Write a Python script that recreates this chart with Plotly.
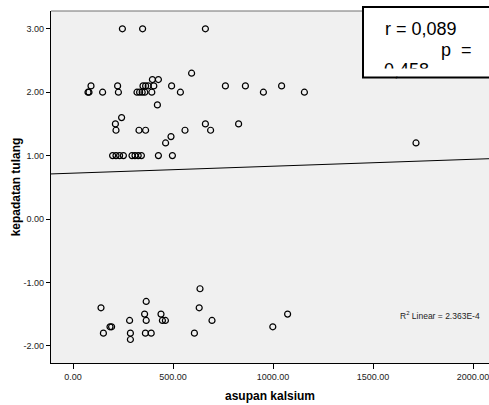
import numpy as np
import plotly.graph_objects as go

# asupan kalsium (mg) vs kepadatan tulang (T-score), grouped by T-score level
x_30 = [247, 348, 662]
x_23 = [593]
x_22 = [397, 427]
x_21 = [90, 223, 350, 363, 376, 404, 493, 762, 862, 1043]
x_20 = [75, 80, 148, 227, 320, 333, 346, 359, 394, 537, 952, 1157]
x_18 = [422]
x_16 = [243]
x_15 = [212, 662, 828]
x_14 = [215, 330, 363, 560, 688]
x_13 = [490]
x_12 = [463, 1715]
x_10 = [198, 215, 233, 252, 295, 310, 326, 342, 427, 497]
x_m11 = [635]
x_m13 = [366]
x_m14 = [140, 631]
x_m15 = [358, 440, 1073]
x_m16 = [283, 366, 447, 462, 695]
x_m17 = [185, 193, 999]
x_m18 = [152, 287, 362, 391, 607]
x_m19 = [287]

groups = [
    (3.0, x_30), (2.3, x_23), (2.2, x_22), (2.1, x_21), (2.0, x_20),
    (1.8, x_18), (1.6, x_16), (1.5, x_15), (1.4, x_14), (1.3, x_13),
    (1.2, x_12), (1.0, x_10), (-1.1, x_m11), (-1.3, x_m13), (-1.4, x_m14),
    (-1.5, x_m15), (-1.6, x_m16), (-1.7, x_m17), (-1.8, x_m18), (-1.9, x_m19),
]

asupan = [xv for yv, xs in groups for xv in xs]
kepadatan = [yv for yv, xs in groups for _ in xs]

x_ticks = [0, 500, 1000, 1500, 2000]
y_ticks = [-2, -1, 0, 1, 2, 3]
x_range = [-110, 2080]
y_range = [-2.271, 3.281]

corr_text = "r = 0,089"
p_label = "p\u00a0\u00a0="
p_value = "0,458"
r2_text = "R<sup>2</sup> Linear = 2.363E-4"

# least-squares fit line
slope, intercept = np.polyfit(asupan, kepadatan, 1)
fit_x = np.array(x_range, dtype=float)
fit_y = intercept + slope * fit_x

W, H = 489, 405
ML, MR, MT, MB = 51, 0, 11, 42
PW, PH = W - ML - MR, H - MT - MB


def px(xp):
    return (xp - ML) / PW


def py(yp):
    return (H - MB - yp) / PH


def dx(xp):
    return x_range[0] + (xp - ML) / PW * (x_range[1] - x_range[0])


def dy(yp):
    return y_range[1] - (yp - MT) / PH * (y_range[1] - y_range[0])


def fmt(v):
    return f"{v:.2f}"


font = "Liberation Sans, Arial, sans-serif"

fig = go.Figure()
fig.add_trace(go.Scatter(
    x=fit_x, y=fit_y, mode="lines",
    line=dict(color="black", width=1), hoverinfo="skip", showlegend=False,
))
fig.add_trace(go.Scatter(
    x=asupan, y=kepadatan, mode="markers",
    marker=dict(symbol="circle-open", size=6, color="black", line=dict(width=1.2)),
    showlegend=False,
))
# third line of the statistics box, partly hidden by the box's lower edge
fig.add_trace(go.Scatter(
    x=[dx(384)], y=[dy(71.7)], mode="text", text=[p_value],
    textposition="middle right",
    textfont=dict(family=font, size=18, color="black"),
    hoverinfo="skip", showlegend=False, cliponaxis=False,
))

shapes = [
    # top frame edge of the plot area
    dict(type="line", xref="paper", yref="paper", x0=0, x1=1, y0=1, y1=1,
         line=dict(color="#707070", width=1), layer="below"),
    # statistics box fill
    dict(type="rect", xref="paper", yref="paper", x0=px(363), x1=px(495),
         y0=py(77.5), y1=py(7), fillcolor="white", line=dict(width=0), layer="below"),
    # mask clipping the overflowing third text line
    dict(type="rect", xref="paper", yref="paper", x0=px(364), x1=px(495),
         y0=py(76.5), y1=py(68.6), fillcolor="white", line=dict(width=0), layer="above"),
    # statistics box border
    dict(type="rect", xref="paper", yref="paper", x0=px(363), x1=px(495),
         y0=py(77.5), y1=py(7), fillcolor="rgba(0,0,0,0)",
         line=dict(color="black", width=2), layer="above"),
]

annotations = [
    dict(xref="paper", yref="paper", x=px(383), y=py(29.4), text=corr_text,
         xanchor="left", yanchor="middle", showarrow=False,
         font=dict(family=font, size=18, color="black")),
    dict(xref="paper", yref="paper", x=px(439), y=py(50.4), text=p_label,
         xanchor="left", yanchor="middle", showarrow=False,
         font=dict(family=font, size=18, color="black")),
    dict(xref="x", yref="y", x=dx(398), y=dy(315), text=r2_text,
         xanchor="left", yanchor="middle", showarrow=False,
         font=dict(family=font, size=8.5, color="#222")),
]

fig.update_layout(
    width=W, height=H, autosize=False,
    margin=dict(l=ML, r=MR, t=MT, b=MB, pad=0),
    paper_bgcolor="white", plot_bgcolor="#f0f0f0",
    shapes=shapes, annotations=annotations,
    font=dict(family=font, size=9, color="#222"),
    xaxis=dict(
        range=x_range, tickvals=x_ticks, ticktext=[fmt(v) for v in x_ticks],
        ticks="outside", ticklen=5, tickwidth=1, tickcolor="black",
        ticklabeloverflow="allow",
        showline=True, linecolor="black", linewidth=1.3,
        showgrid=False, zeroline=False, automargin=False,
        tickfont=dict(size=9, color="#222"),
        title=dict(text="<b>asupan kalsium</b>", standoff=10,
                   font=dict(family=font, size=12, color="black")),
    ),
    yaxis=dict(
        range=y_range, tickvals=y_ticks, ticktext=[fmt(v) for v in y_ticks],
        ticks="outside", ticklen=4, tickwidth=1, tickcolor="black",
        showline=True, linecolor="black", linewidth=1.3,
        showgrid=False, zeroline=False, automargin=False,
        tickfont=dict(size=9, color="#222"),
        title=dict(text="<b>kepadatan tulang</b>", standoff=0,
                   font=dict(family=font, size=12, color="black")),
    ),
)

fig.write_html("out.html")
